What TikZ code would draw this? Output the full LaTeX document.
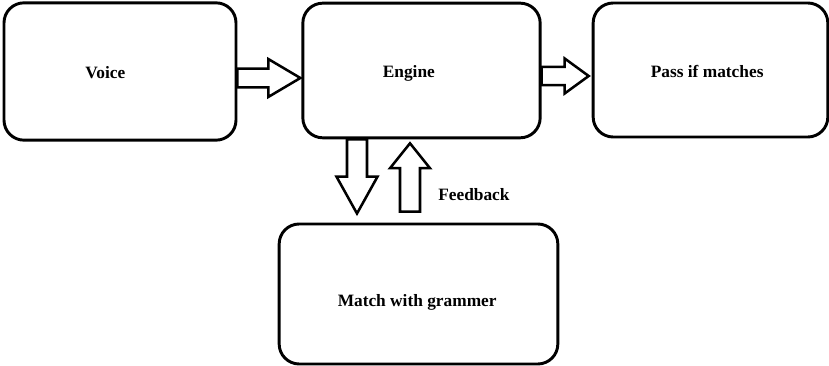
\documentclass[tikz,border=0pt]{standalone}
\usepackage{fontspec}
\setmainfont{Liberation Serif}
\usetikzlibrary{calc}

\tikzset{
  box/.style={draw,line width=2.2pt,rounded corners=15pt,inner sep=0pt},
  boxtext/.style={font=\fontsize{13}{15}\selectfont\bfseries},
  blockarrow/.style args={#1/#2/#3}{draw,line width=1.9pt,line join=miter,
    to path={($(\tikztostart)!#3!90:(\tikztotarget)$)
      -- ($(\tikztotarget)!#1!(\tikztostart)!#3!-90:(\tikztostart)$)
      -- ($(\tikztotarget)!#1!(\tikztostart)!#2!-90:(\tikztostart)$)
      -- (\tikztotarget)
      -- ($(\tikztotarget)!#1!(\tikztostart)!#2!90:(\tikztostart)$)
      -- ($(\tikztotarget)!#1!(\tikztostart)!#3!90:(\tikztostart)$)
      -- ($(\tikztostart)!#3!-90:(\tikztotarget)$) -- cycle}}
}

\begin{document}
\begin{tikzpicture}[x=0.75pt,y=-0.75pt]
  \useasboundingbox (0,0) rectangle (829,366);

  %%%%%%%% Boxes %%%%%%%%
  \node[box,minimum width=174pt,minimum height=103pt,
    label={[boxtext,shift={(-11pt,-1pt)}]center:Voice}] (voice) at (120,71.5) {};
  \node[box,minimum width=178pt,minimum height=101pt,
    label={[boxtext,shift={(-9.5pt,-2pt)}]center:Engine}] (engine) at (421.5,70.5) {};
  \node[box,minimum width=176pt,minimum height=100.5pt,
    label={[boxtext,shift={(-2.5pt,-0.8pt)}]center:Pass if matches}] (pass) at (710.5,70) {};
  \node[box,minimum width=209pt,minimum height=105pt,
    label={[boxtext,shift={(-1pt,-6pt)}]center:Match with grammer}] (match) at (418.5,294) {};

  %%%%%%%% Label %%%%%%%%
  \node[boxtext,anchor=west,inner sep=0pt] (fb) at (438,195) {Feedback};

  %%%%%%%% Block arrows %%%%%%%%
  \draw[blockarrow=24pt/14.2pt/7.1pt] ($(voice.east)+(0,6.5)$) to ($(engine.west)+(-1,7.5)$);
  \draw[blockarrow=18pt/13.1pt/6.8pt] ($(engine.east)+(0,5.5)$) to ($(pass.west)+(-3,6)$);
  \draw[blockarrow=27.7pt/15.4pt/7.5pt] ($(engine.south)+(-64.5,0)$) to ($(match.north)+(-61.5,-9)$);
  \draw[blockarrow=18.7pt/15pt/7.5pt] ($(match.north)+(-8.5,-11)$) to ($(engine.south)+(-11.5,4)$);
\end{tikzpicture}
\end{document}
